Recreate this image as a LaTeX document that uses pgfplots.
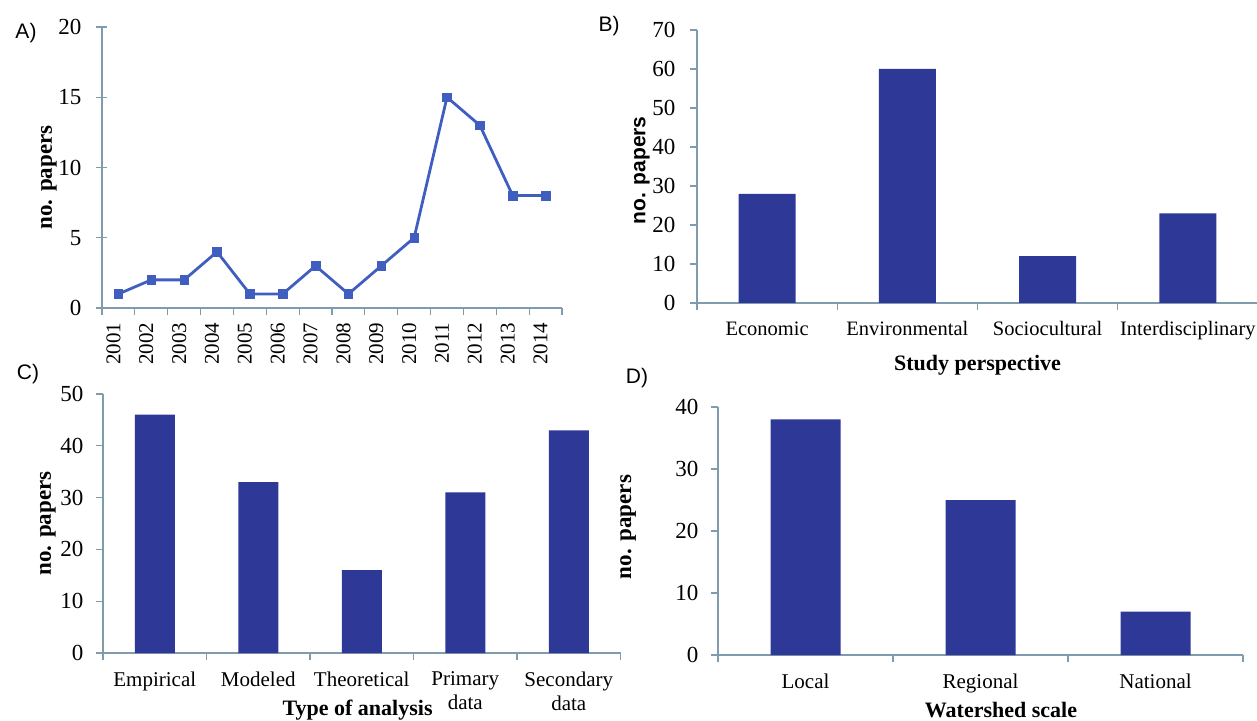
\documentclass[border=0pt]{standalone}
\usepackage{fontspec}
\setmainfont{Liberation Serif}
\newfontfamily\arial{Liberation Sans}
\usepackage{pgfplots}
\pgfplotsset{compat=1.18}

\definecolor{barblue}{RGB}{46,56,150}
\definecolor{lineblue}{RGB}{64,94,192}
\definecolor{axisgray}{RGB}{128,156,172}

\pgfplotsset{
  panel/.style={
    scale only axis,
    axis x line=bottom, axis y line=left,
    axis line style={-, draw=axisgray, line width=1.2pt},
    every outer x axis line/.append style={-},
    every outer y axis line/.append style={-},
    tick align=outside,
    major tick length=7pt,
    minor tick length=7pt,
    tick style={draw=axisgray, line width=1.2pt},
    major x tick style={draw=none},
    minor x tick style={draw=axisgray, line width=1.2pt},
    ymin=0,
    yticklabel style={font=\fontsize{23}{26}\selectfont, xshift=-9pt},
    xticklabel style={font=\fontsize{21}{24}\selectfont},
    /pgf/number format/assume math mode=true,
    label style={font=\fontsize{23}{26}\selectfont\bfseries},
    ylabel style={at={(axis description cs:0,0.5)}, anchor=center},
    xlabel style={at={(axis description cs:0.5,0)}, anchor=center, inner sep=0pt,
      font=\fontsize{22}{26}\selectfont\bfseries},
  },
  barpanel/.style={
    panel, ybar, bar width=#1,
    xticklabel style={align=center, anchor=north, yshift=-8pt},
  },
}

\begin{document}
\begin{tikzpicture}[x=1pt,y=1pt]
\useasboundingbox (0,0) rectangle (1257,720);

% A) papers per year
\begin{axis}[panel,
  at={(102pt,412pt)}, anchor=south west,
  width=460pt, height=281pt,
  xmin=0.5, xmax=14.5, ymax=20,
  ytick={0,5,10,15,20},
  major tick length=11pt,
  ytick style={xshift=5pt},
  yticklabel style={xshift=3pt},
  xtick={1,...,14},
  xticklabels={2001,2002,2003,2004,2005,2006,2007,2008,2009,2010,2011,2012,2013,2014},
  xticklabel style={rotate=90, anchor=east, font=\fontsize{21}{24}\selectfont, yshift=5pt},
  minor xtick={0.5,1.5,...,14.5},
  ylabel={no. papers},
  ylabel style={yshift=53pt, xshift=-10pt},
]
\addplot[lineblue, line width=2.8pt, mark=square*, mark size=4.3pt,
  mark options={fill=lineblue, draw=lineblue, line width=0.5pt}]
  coordinates {(1,1) (2,2) (3,2) (4,4) (5,1) (6,1) (7,3) (8,1) (9,3) (10,5) (11,15) (12,13) (13,8) (14,8)};
\end{axis}

% B) study perspective
\begin{axis}[barpanel=57pt,
  at={(697pt,417pt)}, anchor=south west,
  width=561pt, height=273pt,
  xmin=0.5, xmax=4.5, ymax=70,
  ytick={0,10,...,70},
  yticklabel style={xshift=-2pt},
  xtick={1,2,3,4},
  xticklabels={Economic,Environmental,Sociocultural,Interdisciplinary},
  xticklabel style={font=\fontsize{20.5}{24}\selectfont, inner xsep=0pt},
  minor xtick={0.5,1.5,2.5,3.5,4.5},
  xlabel={Study perspective},
  xlabel style={yshift=-62pt},
  ylabel={no. papers},
  ylabel style={yshift=55pt, xshift=-4pt, font=\fontsize{21}{25}\selectfont\arial\bfseries},
]
\addplot[fill=barblue, draw=none] coordinates {(1,28) (2,60) (3,12) (4,23)};
\end{axis}

% C) type of analysis
\begin{axis}[barpanel=40pt,
  at={(103pt,67pt)}, anchor=south west,
  width=517.5pt, height=259pt,
  xmin=0.5, xmax=5.5, ymax=50,
  ytick={0,10,...,50},
  xtick={1,2,3,4,5},
  xticklabels={Empirical,Modeled,Theoretical,Primary\\data,Secondary\\data},
  minor xtick={0.5,1.5,...,5.5},
  xlabel={Type of analysis},
  xlabel style={at={(axis description cs:0.492,0)}, yshift=-57pt},
  ylabel={no. papers},
  ylabel style={yshift=55pt},
]
\addplot[fill=barblue, draw=none] coordinates {(1,46) (2,33) (3,16) (4,31) (5,43)};
\end{axis}

% D) watershed scale
\begin{axis}[barpanel=70pt,
  at={(718pt,65pt)}, anchor=south west,
  width=525pt, height=248pt,
  xmin=0.5, xmax=3.5, ymax=40,
  ytick={0,10,...,40},
  xtick={1,2,3},
  xticklabels={Local,Regional,National},
  minor xtick={0.5,1.5,2.5,3.5},
  xlabel={Watershed scale},
  xlabel style={at={(axis description cs:0.539,0)}, yshift=-55pt},
  ylabel={no. papers},
  ylabel style={yshift=90pt, xshift=4pt},
]
\addplot[fill=barblue, draw=none] coordinates {(1,38) (2,25) (3,7)};
\end{axis}

\node[font=\fontsize{21}{24}\selectfont\arial] at (26,687) {A)};
\node[font=\fontsize{21}{24}\selectfont\arial] at (609,694) {B)};
\node[font=\fontsize{21}{24}\selectfont\arial] at (28,346) {C)};
\node[font=\fontsize{21}{24}\selectfont\arial] at (637,342) {D)};
\end{tikzpicture}
\end{document}
